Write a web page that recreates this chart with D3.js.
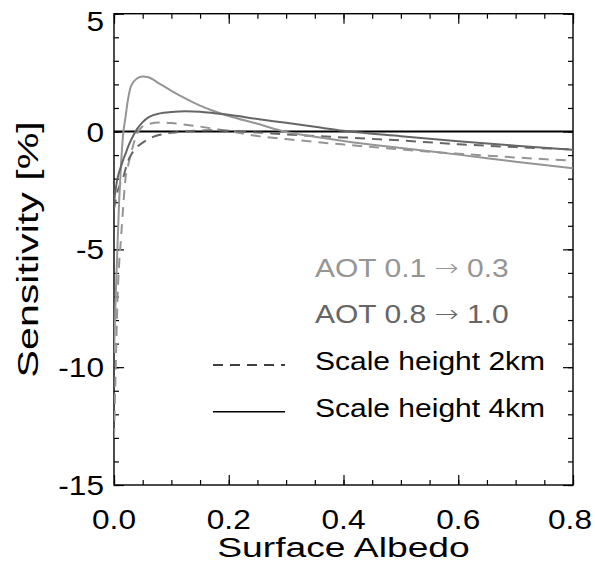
<!DOCTYPE html>
<html>
<head>
<meta charset="utf-8">
<script src="https://cdn.jsdelivr.net/npm/d3@7"></script>
<style>
  body { margin: 0; background: #fff; }
  svg text { font-family: "Liberation Sans", Arial, sans-serif; }
</style>
</head>
<body>
<div id="container"></div>
<script>
/* DATA */
const albedo = [0, 0.003, 0.006, 0.009, 0.012, 0.016, 0.02, 0.025, 0.03, 0.04, 0.05, 0.06, 0.08,
  0.1, 0.125, 0.15, 0.175, 0.2, 0.25, 0.3, 0.35, 0.4, 0.5, 0.6, 0.7, 0.8]

// AOT 0.1 -> 0.3
const lowAot2km = [-13.0, -10.0, -7.2, -5.6, -4.6, -3.2, -2.0, -1.4, -0.9, -0.1, 0.22, 0.32, 0.38,
  0.36, 0.29, 0.21, 0.11, 0.02, -0.19, -0.32, -0.44, -0.55, -0.76, -0.94, -1.1, -1.24]
const lowAot4km = [-9.4, -7.0, -4.9, -2.95, -1.5, -0.1, 0.6, 1.45, 1.95, 2.25, 2.34, 2.3, 2.02,
  1.73, 1.4, 1.1, 0.86, 0.66, 0.33, -0.02, -0.22, -0.4, -0.7, -0.98, -1.28, -1.56]
// AOT 0.8 -> 1.0
const highAot2km = [-3.3, -2.9, -2.55, -2.35, -2.15, -1.95, -1.6, -1.22, -0.98, -0.66, -0.47, -0.32, -0.14,
  -0.05, 0.01, 0.04, 0.05, 0.03, -0.04, -0.12, -0.19, -0.25, -0.38, -0.54, -0.66, -0.76]
const highAot4km = [-3.0, -2.45, -2.0, -1.72, -1.5, -1.2, -0.95, -0.62, -0.35, 0.1, 0.4, 0.6, 0.77,
  0.83, 0.86, 0.84, 0.78, 0.71, 0.53, 0.37, 0.2, 0.03, -0.2, -0.41, -0.6, -0.78]

const xTicks = [0, 0.2, 0.4, 0.6, 0.8]
const xMinor = d3.range(0, 0.8001, 0.05)
const yTicks = [-15, -10, -5, 0, 5]
const yMinor = d3.range(-15, 5.001, 1)

// [before arrow, after arrow] for the AOT rows, plain text for the others
const legendRows = [["AOT 0.1 ", " 0.3"], ["AOT 0.8 ", " 1.0"], ["Scale height 2km"], ["Scale height 4km"]]

/* LAYOUT */
const width = 595, height = 563
const plot = { left: 114, right: 573, top: 13.7, bottom: 485 }
const light = "#959595", dark = "#666666"

const svg = d3.select("#container").append("svg")
  .attr("width", width)
  .attr("height", height)

svg.append("rect").attr("width", width).attr("height", height).attr("fill", "#fff")

const xScale = d3.scaleLinear().domain([0, 0.8]).range([plot.left, plot.right])
const yScale = d3.scaleLinear().domain([-15, 5]).range([plot.bottom, plot.top])

// ticks on all four sides, pointing inward
function tickAxis(axis, ticks, size, transform) {
  const g = svg.append("g")
    .attr("transform", transform)
    .call(axis.tickValues(ticks).tickSize(size).tickFormat(""))
  g.select(".domain").remove()
  g.selectAll("line").attr("stroke", "#000").attr("stroke-width", 1.2)
}
tickAxis(d3.axisBottom(xScale), xMinor, -5, `translate(0,${plot.bottom})`)
tickAxis(d3.axisBottom(xScale), xTicks, -10, `translate(0,${plot.bottom})`)
tickAxis(d3.axisTop(xScale), xMinor, -5, `translate(0,${plot.top})`)
tickAxis(d3.axisTop(xScale), xTicks, -10, `translate(0,${plot.top})`)
tickAxis(d3.axisLeft(yScale), yMinor, -5, `translate(${plot.left},0)`)
tickAxis(d3.axisLeft(yScale), yTicks, -10, `translate(${plot.left},0)`)
tickAxis(d3.axisRight(yScale), yMinor, -5, `translate(${plot.right},0)`)
tickAxis(d3.axisRight(yScale), yTicks, -10, `translate(${plot.right},0)`)

svg.append("rect")
  .attr("x", plot.left).attr("y", plot.top)
  .attr("width", plot.right - plot.left).attr("height", plot.bottom - plot.top)
  .attr("fill", "none").attr("stroke", "#000").attr("stroke-width", 1.4)

// tick labels (the font in the original is wider than Arial, hence the stretch)
const sx = 1.17
svg.selectAll("text.xlab").data(xTicks).join("text")
  .attr("class", "xlab")
  .attr("transform", d => `translate(${Math.min(xScale(d), 570)},529) scale(${sx},1)`)
  .attr("text-anchor", "middle")
  .attr("font-size", 27)
  .text(d => d3.format(".1f")(d))

svg.selectAll("text.ylab").data(yTicks).join("text")
  .attr("class", "ylab")
  .attr("transform", d => `translate(104,${Math.max(yScale(d) + 10, 31)}) scale(${sx},1)`)
  .attr("text-anchor", "end")
  .attr("font-size", 27)
  .text(d => d)

// axis titles
svg.append("text")
  .attr("transform", `translate(${(plot.left + plot.right) / 2},557) scale(1.33,1)`)
  .attr("text-anchor", "middle")
  .attr("font-size", 28)
  .text("Surface Albedo")

svg.append("text")
  .attr("transform", `translate(38,${(plot.top + plot.bottom) / 2}) rotate(-90) scale(1.42,1)`)
  .attr("text-anchor", "middle")
  .attr("font-size", 29)
  .text("Sensitivity [%]")

// zero line
svg.append("line")
  .attr("x1", plot.left).attr("x2", plot.right)
  .attr("y1", yScale(0)).attr("y2", yScale(0))
  .attr("stroke", "#000").attr("stroke-width", 2)

// curves
const series = [
  { values: lowAot2km, color: light, dash: "10,7" },
  { values: highAot2km, color: dark, dash: "10,7" },
  { values: lowAot4km, color: light, dash: null },
  { values: highAot4km, color: dark, dash: null }
]

const line = d3.line()
  .x(d => xScale(d[0]))
  .y(d => yScale(d[1]))
  .curve(d3.curveMonotoneX)

svg.append("clipPath").attr("id", "clip")
  .append("rect")
  .attr("x", plot.left).attr("y", plot.top)
  .attr("width", plot.right - plot.left).attr("height", plot.bottom - plot.top)

svg.append("g").attr("clip-path", "url(#clip)")
  .selectAll("path").data(series).join("path")
  .attr("d", s => line(albedo.map((a, i) => [a, s.values[i]])))
  .attr("fill", "none")
  .attr("stroke", s => s.color)
  .attr("stroke-width", 2)
  .attr("stroke-dasharray", s => s.dash)

// legend
const legendY = [276.7, 323.3, 370, 416.7]
const legendColor = [light, dark, "#000", "#000"]
svg.selectAll("text.leg").data(legendRows).join("text")
  .attr("class", "leg")
  .attr("transform", (d, i) => `translate(315,${legendY[i]}) scale(1.2,1)`)
  .attr("font-size", 25)
  .attr("fill", (d, i) => legendColor[i])
  .each(function (d) {
    const t = d3.select(this)
    t.append("tspan").text(d[0])
    if (d.length > 1) {
      t.append("tspan")
        .style("font-family", "'DejaVu Sans'")
        .style("font-weight", "200")
        .attr("font-size", 24)
        .attr("dy", -1)
        .text("\u2192")
      t.append("tspan").attr("dy", 1).text(d[1])
    }
  })

svg.append("line")
  .attr("x1", 213).attr("x2", 285).attr("y1", 365).attr("y2", 365)
  .attr("stroke", "#000").attr("stroke-width", 1.5).attr("stroke-dasharray", "10,7")
svg.append("line")
  .attr("x1", 213).attr("x2", 285).attr("y1", 411.7).attr("y2", 411.7)
  .attr("stroke", "#000").attr("stroke-width", 1.5)
</script>
</body>
</html>
